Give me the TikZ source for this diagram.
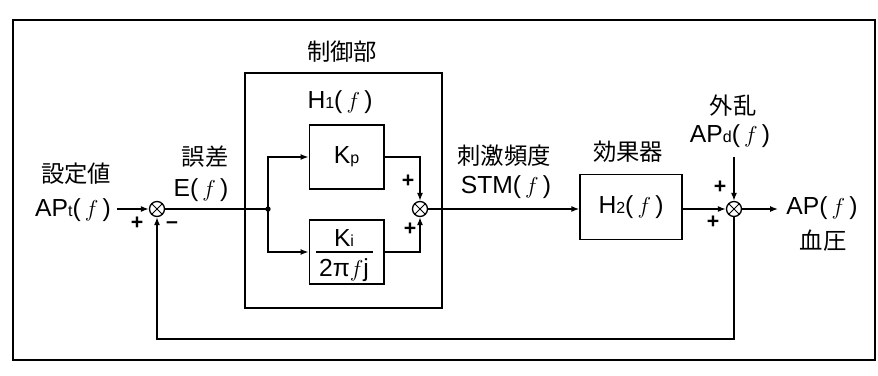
\documentclass[tikz,border=0pt]{standalone}
\usepackage{fontspec}
\setmainfont{Liberation Sans}
\newfontfamily\jp{Noto Sans CJK JP}
\usetikzlibrary{arrows.meta}
\newcommand\sbs[1]{{\fontsize{12}{12}\selectfont #1}}
\newcommand\ff{\,$f$\,}
\begin{document}
\begin{tikzpicture}[x=0.75pt,y=-0.75pt,
  ln/.style={line width=1pt},
  arr/.style={ln,-{Latex[length=6pt,width=4.5pt]}},
  blk/.style={draw,ln,inner sep=0pt},
  sumj/.style={draw,ln,circle,minimum size=11.25pt,inner sep=0pt,
    path picture={\draw[line width=0.7pt] (path picture bounding box.north west) -- (path picture bounding box.south east)
      (path picture bounding box.north east) -- (path picture bounding box.south west);}},
  jtxt/.style={font=\jp\fontsize{17.5}{20}\selectfont,inner sep=0pt},
  ltxt/.style={font=\fontsize{18.5}{21}\selectfont,inner sep=0pt},
  pm/.style={font=\bfseries\fontsize{16}{16}\selectfont,inner sep=0pt}]
\useasboundingbox (0,0) rectangle (878,375);
\draw[ln] (13,20) rectangle (875,360);

% blocks
\node[blk,minimum width=147.75pt,minimum height=176.25pt] (ctrl) at (343.5,190.5) {};
\node[blk,minimum width=56pt,minimum height=48pt,ltxt] (kp) at (346.5,157) {K\sbs{p}};
\node[blk,minimum width=56pt,minimum height=48pt] (ki) at (346.5,252) {};
\node[ltxt] (kinum) at (344,238) {K\sbs{i}};
\node[ltxt] (kiden) at (344,270) {2π$f$j};
\draw[ln] (316,252) -- (373,252);
\node[blk,minimum width=76.5pt,minimum height=48.75pt,ltxt] (h2) at (631,207) {H\sbs{2}(\ff)};

% junctions
\node[sumj] (s1) at (157,209) {};
\node[sumj] (s2) at (420,209) {};
\node[sumj] (s3) at (734,209) {};
\coordinate (br) at (268,209);
\fill (br) circle (2pt);
\coordinate (in) at (117,209);
\coordinate (dtop) at (734,157);
\coordinate (out) at (778,209);

% connectors
\draw[arr] (in) -- (s1.west);
\draw[ln] (s1.east) -- (br);
\draw[arr] (br) |- (kp.west);
\draw[arr] (br) |- (ki.west);
\draw[arr] (kp.east) -| (s2.north);
\draw[arr] (ki.east) -| (s2.south);
\draw[arr] (s2.east) -- (h2.west |- s2.east);
\draw[arr] (h2.east |- s3.west) -- (s3.west);
\draw[arr] (dtop) -- (s3.north);
\draw[arr] (s3.east) -- (out);
\draw[arr] (s3.south) -- (734,339) -| (s1.south);

% labels
\node[jtxt] (l1) at (76,174) {設定値};
\node[ltxt] (l2) at (73,210) {AP\sbs{t}(\ff)};
\node[pm] (p1) at (137,223) {+};
\node[pm] (m1) at (172,225) {–};
\node[jtxt] (l3) at (205,157) {誤差};
\node[ltxt] (l4) at (201,190) {E(\ff)};
\node[jtxt] (l5) at (342,52) {制御部};
\node[ltxt] (l6) at (340,102) {H\sbs{1}(\ff)};
\node[pm] (p2) at (408,181) {+};
\node[pm] (p3) at (410,229) {+};
\node[jtxt] (l7) at (504,156) {刺激頻度};
\node[ltxt] (l8) at (506,187) {STM(\ff)};
\node[jtxt] (l9) at (628,152) {効果器};
\node[jtxt] (l10) at (733,106) {外乱};
\node[ltxt] (l11) at (730,136) {AP\sbs{d}(\ff)};
\node[pm] (p4) at (720,187) {+};
\node[pm] (p5) at (713,222) {+};
\node[ltxt] (l12) at (822,208) {AP(\ff)};
\node[jtxt] (l13) at (823,241) {血圧};
\end{tikzpicture}
\end{document}
